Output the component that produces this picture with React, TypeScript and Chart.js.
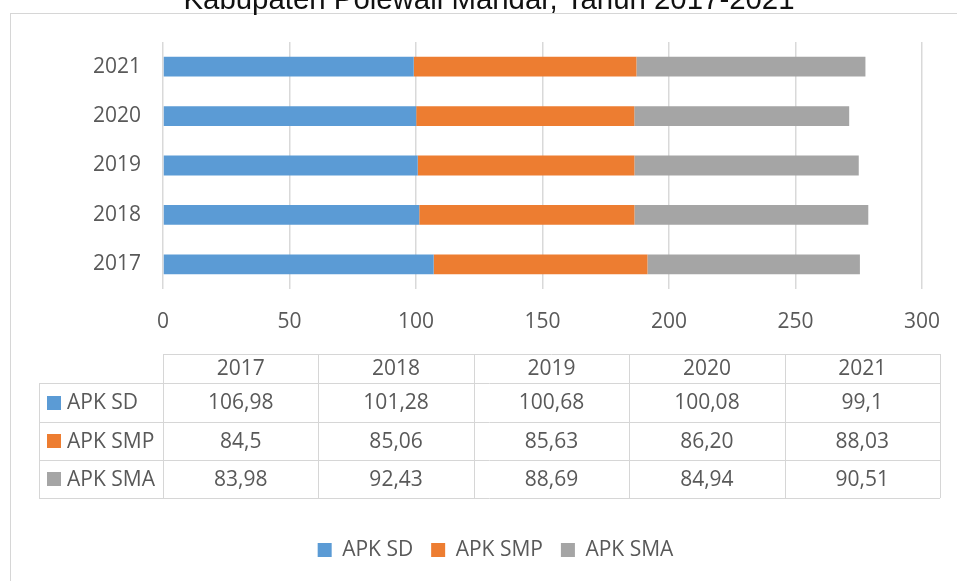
import React, { useEffect, useRef } from "react";
import { Chart, registerables } from "chart.js";

Chart.register(...registerables);

const years = ["2017", "2018", "2019", "2020", "2021"];
const seriesNames = ["APK SD", "APK SMP", "APK SMA"];
const seriesColors = ["#5B9BD5", "#ED7D31", "#A5A5A5"];
const apkSdText = ["106,98", "101,28", "100,68", "100,08", "99,1"];
const apkSmpText = ["84,5", "85,06", "85,63", "86,20", "88,03"];
const apkSmaText = ["83,98", "92,43", "88,69", "84,94", "90,51"];
const xTicks = [0, 50, 100, 150, 200, 250, 300];
const titleText = "Kabupaten Polewali Mandar, Tahun 2017-2021";

const toNum = (s: string) => parseFloat(s.replace(",", "."));
const seriesText = [apkSdText, apkSmpText, apkSmaText];

const FONT = "'Open Sans', 'Noto Sans', sans-serif";
const TEXT = "#595959";
const LINE = "#d6d6d6";

const decor = {
  id: "decor",
  beforeDraw(chart: any) {
    const ctx = chart.ctx as CanvasRenderingContext2D;
    ctx.save();
    ctx.strokeStyle = LINE;
    ctx.lineWidth = 1;
    ctx.strokeRect(10.5, 13.5, 1200, 1200);
    ctx.fillStyle = "#111";
    ctx.font = "29.4px 'Liberation Sans', Arial, sans-serif";
    ctx.textAlign = "center";
    ctx.textBaseline = "alphabetic";
    ctx.fillText(titleText, 489, 9);
    ctx.restore();
  },
  afterDraw(chart: any) {
    const ctx = chart.ctx as CanvasRenderingContext2D;
    const left = chart.chartArea.left;
    const right = 940;
    const labelLeft = 39;
    const colW = (right - left) / years.length;
    const rows = [354, 383, 422, 460, 498];
    ctx.save();
    ctx.strokeStyle = LINE;
    ctx.lineWidth = 1;
    ctx.beginPath();
    ctx.moveTo(left, rows[0] + 0.5);
    ctx.lineTo(right, rows[0] + 0.5);
    for (let r = 1; r < rows.length; r++) {
      ctx.moveTo(labelLeft, rows[r] + 0.5);
      ctx.lineTo(right, rows[r] + 0.5);
    }
    ctx.moveTo(labelLeft + 0.5, rows[1]);
    ctx.lineTo(labelLeft + 0.5, rows[rows.length - 1]);
    for (let c = 0; c <= years.length; c++) {
      const x = Math.round(left + c * colW) + 0.5;
      ctx.moveTo(x, rows[0]);
      ctx.lineTo(x, rows[rows.length - 1]);
    }
    ctx.stroke();

    ctx.fillStyle = TEXT;
    ctx.font = `21px ${FONT}`;
    ctx.textBaseline = "middle";
    ctx.textAlign = "center";
    years.forEach((y, i) => {
      ctx.fillText(y, left + (i + 0.5) * colW, (rows[0] + rows[1]) / 2 + 1);
    });
    seriesNames.forEach((name, s) => {
      const cy = (rows[s + 1] + rows[s + 2]) / 2;
      ctx.fillStyle = seriesColors[s];
      ctx.fillRect(47, Math.round(cy - 7), 14, 14);
      ctx.fillStyle = TEXT;
      ctx.textAlign = "left";
      ctx.fillText(name, 67, cy + 1);
      ctx.textAlign = "center";
      seriesText[s].forEach((t, i) => {
        ctx.fillText(t, left + (i + 0.5) * colW, cy + 1);
      });
    });
    ctx.restore();
  },
};

export default function App() {
  const ref = useRef<HTMLCanvasElement | null>(null);
  useEffect(() => {
    if (!ref.current) return;
    const chart = new Chart(ref.current, {
      type: "bar",
      data: {
        labels: years,
        datasets: seriesNames.map((name, i) => ({
          label: name,
          data: seriesText[i].map(toNum),
          backgroundColor: seriesColors[i],
          borderWidth: 0,
          barPercentage: 0.4,
          categoryPercentage: 1,
        })),
      },
      options: {
        indexAxis: "y",
        responsive: false,
        animation: false,
        devicePixelRatio: 1,
        layout: { padding: { top: 42, left: 69, right: 35, bottom: 10.5 } },
        scales: {
          x: {
            stacked: true,
            min: 0,
            max: 300,
            afterBuildTicks: (s: any) => {
              s.ticks = xTicks.map((v) => ({ value: v }));
            },
            ticks: { padding: 20, color: TEXT, font: { family: FONT, size: 21 } },
            grid: { color: "#d9d9d9", lineWidth: 1.5, drawTicks: false },
            border: { display: false },
            afterFit: (s: any) => {
              s.height = 232.5;
              s.paddingLeft = 0;
              s.paddingRight = 0;
            },
          },
          y: {
            stacked: true,
            reverse: true,
            ticks: { padding: 14, color: TEXT, font: { family: FONT, size: 21 } },
            grid: { display: false },
            border: { display: false },
            afterFit: (s: any) => {
              s.width = 94;
            },
          },
        },
        plugins: {
          legend: {
            position: "bottom",
            labels: {
              boxWidth: 14,
              boxHeight: 14,
              padding: 18,
              color: TEXT,
              font: { family: FONT, size: 21 },
            },
          },
          tooltip: { enabled: false },
        },
      } as any,
      plugins: [decor],
    });
    return () => chart.destroy();
  }, []);
  return (
    <div style={{ position: "absolute", left: 0, top: 0, width: 957, height: 581, background: "#fff" }}>
      <canvas ref={ref} width={957} height={581} style={{ display: "block" }} />
    </div>
  );
}
